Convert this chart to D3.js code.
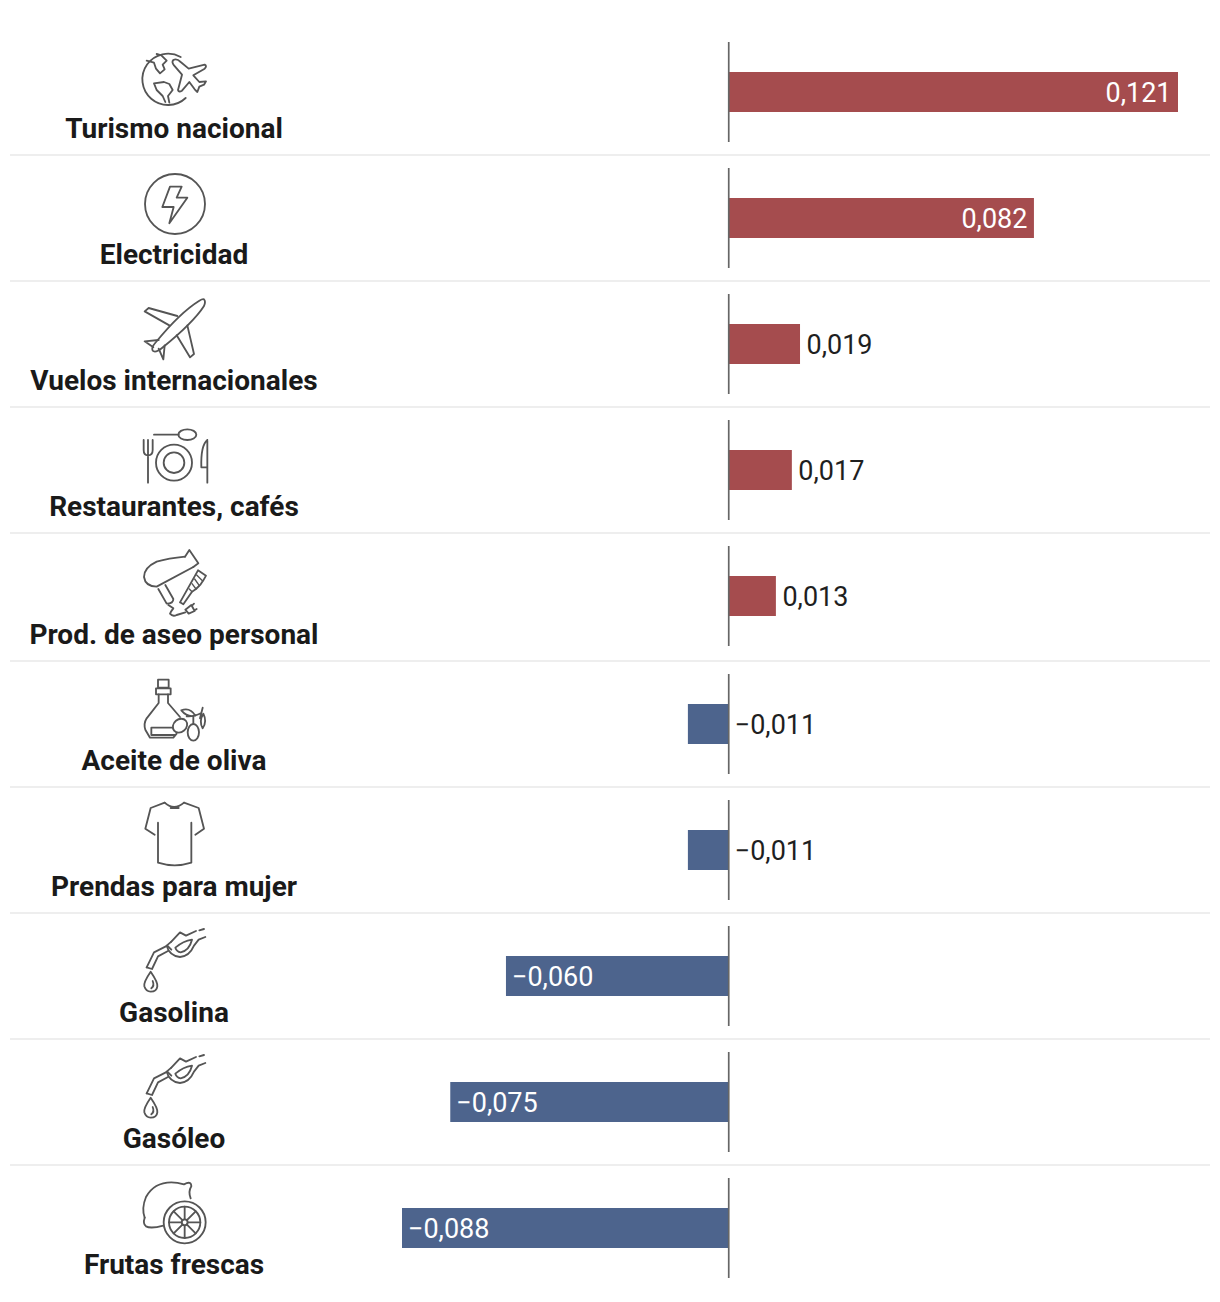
<!DOCTYPE html>
<html><head><meta charset="utf-8">
<script src="https://cdn.jsdelivr.net/npm/d3@7"></script>
<style>html,body{margin:0;background:#fff}svg{display:block}text{font-family:Roboto,sans-serif}</style>
</head><body><svg id="c" width="1220" height="1302"></svg>
<script>
const categories=["Turismo nacional","Electricidad","Vuelos internacionales","Restaurantes, cafés","Prod. de aseo personal","Aceite de oliva","Prendas para mujer","Gasolina","Gasóleo","Frutas frescas"];
const values=[0.121,0.0822,0.0192,0.017,0.0127,-0.011,-0.011,-0.060,-0.075,-0.088];
const insideLabel=[true,true,false,false,false,false,false,true,true,true];
const POS="#a54c4e",NEG="#4d648d";

const gasIcon=`<path d="M50 127 L72 82 L112 62 L124 74"/><path d="M50 127 L66 132 L84 94 L114 78"/><path d="M124 50 L150 22 L168 32 L198 18 M208 16 L222 12"/><path d="M124 50 L110 62 Q118 92 150 96 Q178 94 192 62 L206 44 L226 36"/><path d="M136 68 Q160 48 186 44 Q178 76 152 82 Q140 80 136 68Z"/><path d="M62 140 Q40 172 43 184 Q48 200 62 200 Q80 200 82 184 Q84 172 62 140Z"/><path d="M68 168 Q74 182 64 190"/>`;
const icons=[
`<path d="M167 174 A77 77 0 1 1 152 51"/><path d="M80 42 L94 46 L110 62 L98 74 L104 88 L90 100 L78 86 L72 68 L50 62"/><path d="M72 130 L102 126 L118 132 L128 150 L114 168 L118 188 M72 130 L80 150 L98 168 L106 186"/><path d="M130 60 Q140 54 152 66 L176 86 L224 74 Q232 78 224 86 L190 106 L208 126 L228 124 L222 134 L208 140 L202 156 L194 148 L178 126 L156 152 Q146 158 144 150 L156 104 L132 76 Q124 66 130 60Z"/>`,
`<circle cx="135" cy="117" r="90"/><path d="M120 65 L155 65 L140 98 L172 98 L118 175 L131 126 L97 126Z"/>`,
`<path d="M222 22 Q228 28 222 42 Q190 92 96 168 Q76 184 68 176 Q62 168 78 150 Q150 62 208 26 Q218 20 222 22Z"/><path d="M142 72 L56 48 L44 58 L118 100"/><path d="M172 100 L192 186 L180 196 L140 130"/><path d="M86 144 L44 148 L70 166"/><path d="M86 170 L100 202 L104 160"/>`,
`<path d="M72 44 L146 44"/><ellipse cx="172" cy="44" rx="27" ry="16"/><path d="M41 60 V90 Q41 106 54 106 Q68 106 68 90 V60 M54 60 V188"/><circle cx="132" cy="128" r="54"/><circle cx="132" cy="128" r="31"/><path d="M232 60 Q212 76 214 142 H232 M232 60 V188"/>`,
`<path d="M165 35 Q115 40 80 50 Q42 68 42 96 Q46 124 80 125 L190 66"/><path d="M165 35 L178 15 L205 55 L190 66"/><path d="M85 132 L110 176 Q130 176 130 162 L106 120"/><path d="M115 180 L130 190 Q122 200 120 206 Q128 216 140 210 L166 202"/><path d="M166 194 L184 180 L194 198 L176 206Z M186 182 L192 176 M194 196 L200 192"/><path d="M150 172 L204 76 L228 92 L220 106 M150 172 L160 178 L186 140 L198 132 L212 118 L220 106"/><path d="M186 140 L178 132 M198 132 L186 116 M208 122 L194 102 M218 108 L200 90" stroke-width="4"/>`,
`<path d="M84 14 H116 V38 H84Z M78 40 H122 V58 H78Z"/><path d="M86 58 V84 L50 130 Q40 146 46 164 L60 188 H130 L140 176"/><path d="M114 58 V84 L150 126"/><path d="M64 158 H128 M64 158 V180 H134"/><ellipse cx="150" cy="152" rx="23" ry="19" transform="rotate(-40 150 152)"/><ellipse cx="190" cy="172" rx="17" ry="25"/><path d="M170 124 Q190 126 214 114 M154 106 Q180 96 196 122 Q172 128 154 106Z M218 98 L210 130 M220 116 Q232 140 218 160 Q206 138 220 116Z M190 124 V146"/>`,
`<path d="M104 14 L62 30 L46 92 L74 110 M162 14 L206 30 L222 92 L196 110"/><path d="M104 14 Q132 40 162 14"/><path d="M122 30 H146"/><path d="M84 74 V194 Q134 210 184 194 V74"/>`,
gasIcon,
gasIcon,
`<path d="M44 128 Q34 100 48 66 Q72 22 124 22 Q142 22 162 28 Q184 16 184 34 Q174 50 182 70"/><path d="M100 152 Q62 162 48 154 Q38 146 44 128"/><circle cx="164" cy="142" r="63"/><circle cx="164" cy="142" r="47"/><circle cx="164" cy="142" r="9"/><path d="M164 95 V133 M164 151 V189 M117 142 H155 M173 142 H211 M131 109 L158 136 M170 148 L197 175 M197 109 L170 136 M158 148 L131 175"/>`
];
const iconTop=[40,165,292,420,545,675,798,925,1051,1175];

const rowY=i=>92+i*126+(i>=5?2:0);
const labelY=i=>rowY(i)+46+(i==4?2:0);
const x=d3.scaleLinear().domain([-0.088,0.121]).range([402,1178]);
const fmt=d3.formatLocale({decimal:",",thousands:".",grouping:[3],currency:["","€"],minus:"\u2212"}).format(".3f");
const svg=d3.select("#c");

svg.selectAll("line.sep").data(categories.slice(0,-1)).join("line").attr("class","sep")
 .attr("x1",10).attr("x2",1210)
 .attr("y1",(d,i)=>(rowY(i)+rowY(i+1))/2+(i==4?1:0)).attr("y2",(d,i)=>(rowY(i)+rowY(i+1))/2+(i==4?1:0))
 .attr("stroke","#eeeeee").attr("stroke-width",2);

svg.selectAll("rect.bar").data(values).join("rect").attr("class","bar")
 .attr("x",d=>Math.min(x(d),x(0))).attr("width",d=>Math.abs(x(d)-x(0)))
 .attr("y",(d,i)=>rowY(i)-20).attr("height",40)
 .attr("fill",d=>d>0?POS:NEG);

svg.selectAll("line.zero").data(values).join("line").attr("class","zero")
 .attr("x1",x(0)).attr("x2",x(0))
 .attr("y1",(d,i)=>rowY(i)-50).attr("y2",(d,i)=>rowY(i)+50)
 .attr("stroke","#666").attr("stroke-width",1.7);

svg.selectAll("text.val").data(values).join("text").attr("class","val")
 .attr("y",(d,i)=>rowY(i)+10).attr("font-size",27)
 .attr("x",(d,i)=>{
   if(insideLabel[i]) return d>0?x(d)-6.5:x(d)+6;
   return d>0?x(d)+6.5:x(0)+6;
 })
 .attr("text-anchor",(d,i)=>insideLabel[i]&&d>0?"end":"start")
 .attr("fill",(d,i)=>insideLabel[i]?"#fff":"#1f1f1f")
 .text(d=>fmt(d));

svg.selectAll("text.cat").data(categories).join("text").attr("class","cat")
 .attr("x",174).attr("y",(d,i)=>labelY(i))
 .attr("text-anchor","middle").attr("font-size",28).attr("font-weight",700).attr("fill","#1a1a1a")
 .text(d=>d);

svg.selectAll("g.icon").data(icons).join("g").attr("class","icon")
 .attr("transform",(d,i)=>`translate(130,${iconTop[i]}) scale(${1/3})`)
 .attr("fill","none").attr("stroke","#555").attr("stroke-width",5.5).attr("stroke-linejoin","round").attr("stroke-linecap","round")
 .html(d=>d);
</script></body></html>
